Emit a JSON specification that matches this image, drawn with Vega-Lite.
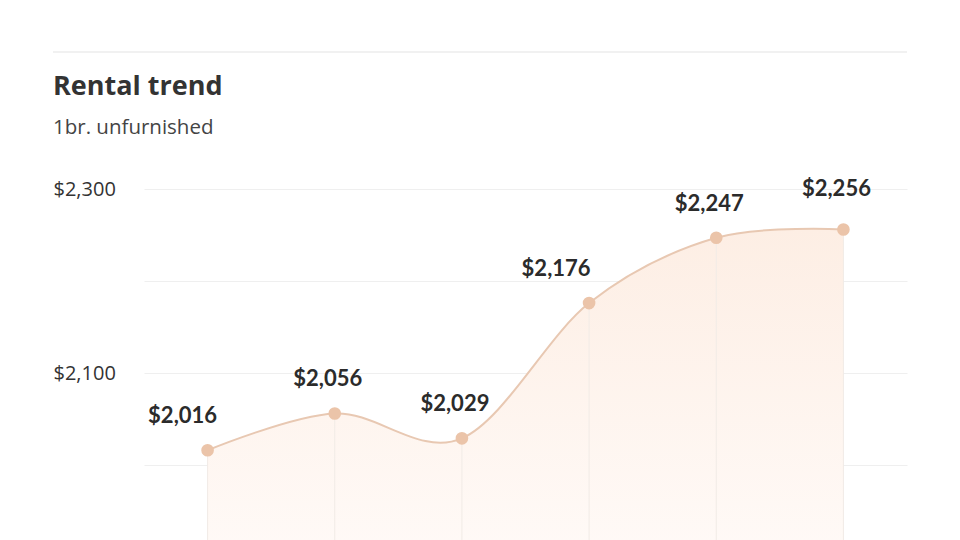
{
  "$schema": "https://vega.github.io/schema/vega-lite/v6.json",
  "width": 763,
  "height": 368,
  "autosize": {"type": "none"},
  "padding": {"left": 144, "top": 189, "right": 53, "bottom": 0},
  "background": "white",
  "title": {
    "text": "Rental trend",
    "subtitle": "1br. unfurnished",
    "anchor": "start",
    "frame": "group",
    "dx": -91,
    "font": "Open Sans",
    "fontSize": 27,
    "fontWeight": "bold",
    "color": "#333333",
    "subtitleFont": "Open Sans",
    "subtitleFontSize": 20.5,
    "subtitleColor": "#444444",
    "subtitlePadding": 17,
    "offset": -88
  },
  "config": {
    "view": {"stroke": null}
  },
  "data": {
    "values": [
      {"period": 1, "rent": 2016},
      {"period": 2, "rent": 2056},
      {"period": 3, "rent": 2029},
      {"period": 4, "rent": 2176},
      {"period": 5, "rent": 2247},
      {"period": 6, "rent": 2256}
    ]
  },
  "encoding": {
    "x": {
      "field": "period",
      "type": "quantitative",
      "scale": {"domain": [0.5, 6.5], "nice": false, "zero": false},
      "axis": null
    }
  },
  "layer": [
    {
      "mark": {
        "type": "area",
        "interpolate": "cardinal",
        "color": {
          "gradient": "linear",
          "x1": 0, "y1": 0, "x2": 0, "y2": 1,
          "stops": [
            {"offset": 0, "color": "#fdeee4"},
            {"offset": 1, "color": "#fffaf7"}
          ]
        }
      },
      "encoding": {
        "y": {
          "field": "rent",
          "type": "quantitative",
          "scale": {"domain": [1900, 2300], "nice": false, "zero": false},
          "axis": {
            "values": [2000, 2100, 2200, 2300],
            "domain": false,
            "ticks": false,
            "grid": true,
            "gridColor": "#efefef",
            "gridWidth": 1,
            "title": null,
            "labelAlign": "left",
            "labelPadding": 91,
            "labelFont": "Open Sans",
            "labelFontSize": 20,
            "labelColor": "#333333",
            "labelExpr": "datum.value % 200 == 100 ? '$' + format(datum.value, ',') : ''"
          }
        },
        "y2": {"datum": 1900}
      }
    },
    {
      "mark": {"type": "rule", "color": "#f1ebe6", "strokeWidth": 1},
      "encoding": {
        "y": {"field": "rent", "type": "quantitative"},
        "y2": {"datum": 1900}
      }
    },
    {
      "mark": {"type": "line", "interpolate": "cardinal", "color": "#e8c8b2", "strokeWidth": 2},
      "encoding": {
        "y": {"field": "rent", "type": "quantitative"}
      }
    },
    {
      "mark": {"type": "point", "filled": true, "opacity": 1, "size": 160, "color": "#ebc4a9"},
      "encoding": {
        "y": {"field": "rent", "type": "quantitative"}
      }
    },
    {
      "mark": {
        "type": "text",
        "font": "Lato",
        "fontWeight": "bold",
        "fontSize": 22,
        "color": "#2b2b2b",
        "dx": {"expr": "datum.period == 1 ? -25 : datum.period == 4 ? -33 : -7"},
        "dy": {"expr": "datum.period == 6 ? -40 : -34"}
      },
      "encoding": {
        "y": {"field": "rent", "type": "quantitative"},
        "text": {"field": "rent", "type": "quantitative", "format": "$,.0f"}
      }
    },
    {
      "mark": {"type": "rule", "color": "#f0f0f0", "strokeWidth": 1.5, "clip": false},
      "encoding": {
        "x": {"datum": -0.216},
        "x2": {"datum": 6.5},
        "y": {"datum": 2449}
      }
    }
  ]
}
